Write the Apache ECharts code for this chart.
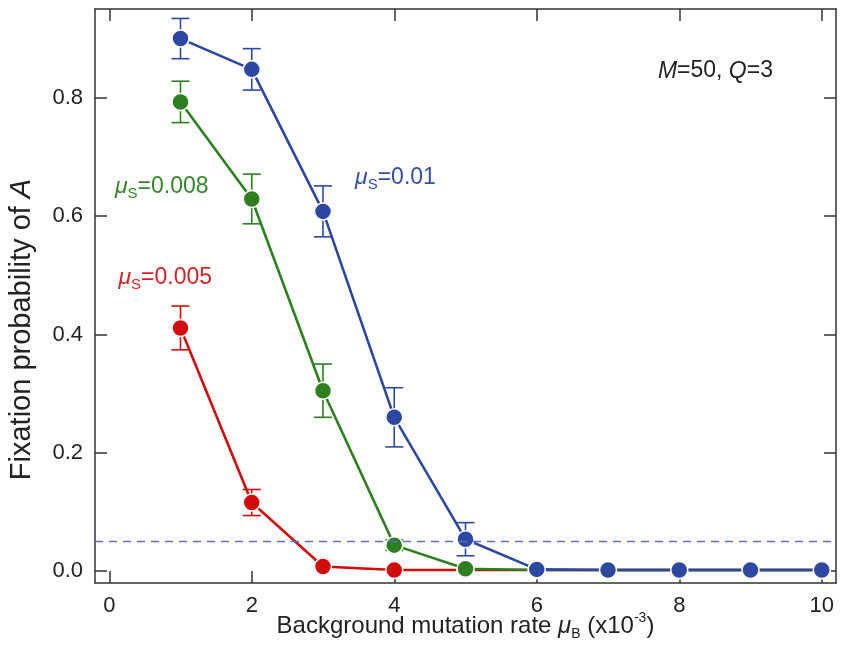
<!DOCTYPE html>
<html><head><meta charset="utf-8">
<script src="https://cdn.jsdelivr.net/npm/echarts@6/dist/echarts.min.js"></script>
<style>html,body{margin:0;padding:0;background:#fff}#c{width:841px;height:647px}</style>
</head><body><div id="c"></div>
<script>
// ---- data ----
const xValues = [1, 2, 3, 4, 5, 6, 7, 8, 9, 10];
const blueY   = [0.900, 0.848, 0.608, 0.260, 0.054, 0.003, 0.002, 0.002, 0.002, 0.002];
const blueErr = [0.034, 0.035, 0.043, 0.050, 0.028, 0, 0, 0, 0, 0];
const greenY   = [0.793, 0.629, 0.305, 0.044, 0.004, 0.002, 0.002, 0.002, 0.002, 0.002];
const greenErr = [0.035, 0.042, 0.045, 0.009, 0, 0, 0, 0, 0, 0];
const redY   = [0.411, 0.116, 0.008, 0.002, 0.002, 0.002, 0.002, 0.002, 0.002, 0.002];
const redErr = [0.037, 0.022, 0, 0, 0, 0, 0, 0, 0, 0];
const xTicks = [0, 2, 4, 6, 8, 10];
const yTicks = [0, 0.2, 0.4, 0.6, 0.8];
const threshold = 0.05;
const labels = [
  {text: '{i|μ}{sub|S}{n|=0.01}', pos: [3.45, 0.665], color: '#3450a6'},
  {text: '{i|μ}{sub|S}{n|=0.008}', pos: [0.08, 0.650], color: '#34862a'},
  {text: '{i|μ}{sub|S}{n|=0.005}', pos: [0.13, 0.496], color: '#d42424'},
  {text: '{i|M}{n|=50, }{i|Q}{n|=3}', pos: [7.70, 0.845], color: '#222'}
];

const BLUE = '#2c48a2', GREEN = '#2d7f1f', RED = '#d20c0c';
const FONT = 'Liberation Sans, Arial, sans-serif';

function pairs(ys) { return xValues.map((x, i) => [x, ys[i]]); }
function errData(ys, es) {
  const out = [];
  xValues.forEach((x, i) => { if (es[i] > 0) out.push([x, ys[i] - es[i], ys[i] + es[i]]); });
  return out;
}
function errSeries(ys, es, color) {
  return {
    type: 'custom', z: 1, silent: true,
    data: errData(ys, es),
    renderItem(params, api) {
      const x = api.value(0), lo = api.value(1), hi = api.value(2);
      const a = api.coord([x, hi]), b = api.coord([x, lo]);
      const w = 9;
      const st = {stroke: color, lineWidth: 1.6};
      return {type: 'group', children: [
        {type: 'line', shape: {x1: a[0], y1: a[1], x2: b[0], y2: b[1]}, style: st},
        {type: 'line', shape: {x1: a[0] - w, y1: a[1], x2: a[0] + w, y2: a[1]}, style: st},
        {type: 'line', shape: {x1: b[0] - w, y1: b[1], x2: b[0] + w, y2: b[1]}, style: st}
      ]};
    }
  };
}
function lineSeries(ys, color, z, extra) {
  return Object.assign({
    type: 'line', z: z, data: pairs(ys),
    symbol: 'circle', symbolSize: 17,
    lineStyle: {color: color, width: 2.6},
    itemStyle: {color: color, borderColor: '#fff', borderWidth: 1.5}
  }, extra || {});
}

const axisLineStyle = {color: '#333', width: 1.5};
function richFor(size, color) {
  return {
    n: {fontSize: size, fontFamily: FONT, color: color, lineHeight: size + 6},
    i: {fontSize: size, fontFamily: FONT, color: color, fontStyle: 'italic', lineHeight: size + 6},
    sub: {fontSize: Math.round(size * 0.6), fontFamily: FONT, color: color, verticalAlign: 'bottom', lineHeight: Math.round(size * 0.6) + 2},
    sup: {fontSize: Math.round(size * 0.6), fontFamily: FONT, color: color, verticalAlign: 'top', lineHeight: Math.round(size * 0.6) + 2}
  };
}

const chart = echarts.init(document.getElementById('c'), null, {renderer: 'canvas'});
chart.setOption({
  animation: false,
  backgroundColor: '#fff',
  grid: {left: 95, right: 5, top: 9, bottom: 64, containLabel: false, outerBoundsMode: 'none'},
  xAxis: [{
    type: 'value', min: -0.2, max: 10.2, position: 'bottom',
    axisLine: {show: true, onZero: false, lineStyle: axisLineStyle},
    axisTick: {show: true, inside: true, length: 12, customValues: xTicks, lineStyle: axisLineStyle},
    axisLabel: {customValues: xTicks, fontSize: 22, fontFamily: FONT, color: '#222', margin: 12},
    splitLine: {show: false},
    name: '{n|Background mutation rate }{i|μ}{sub|B}{n| (x10}{sup|-3}{n|)}',
    nameLocation: 'middle', nameGap: 28, nameMoveOverlap: false,
    nameTextStyle: {rich: richFor(24, '#222'), verticalAlign: 'top'}
  }, {
    type: 'value', min: -0.2, max: 10.2, position: 'top',
    axisLine: {show: true, onZero: false, lineStyle: axisLineStyle},
    axisTick: {show: true, inside: true, length: 12, customValues: xTicks, lineStyle: axisLineStyle},
    axisLabel: {show: false}, splitLine: {show: false}
  }],
  yAxis: [{
    type: 'value', min: -0.02, max: 0.95, position: 'left',
    axisLine: {show: true, onZero: false, lineStyle: axisLineStyle},
    axisTick: {show: true, inside: true, length: 12, customValues: yTicks, lineStyle: axisLineStyle},
    axisLabel: {customValues: yTicks, fontSize: 22, fontFamily: FONT, color: '#222', margin: 12,
      formatter: v => v.toFixed(1)},
    splitLine: {show: false},
    name: '{n|Fixation probability of }{i|A}',
    nameLocation: 'middle', nameGap: 56, nameRotate: 90, nameMoveOverlap: false,
    nameTextStyle: {rich: richFor(29, '#222'), padding: [0, 67, 0, 0]}
  }, {
    type: 'value', min: -0.02, max: 0.95, position: 'right',
    axisLine: {show: true, onZero: false, lineStyle: axisLineStyle},
    axisTick: {show: true, inside: true, length: 12, customValues: yTicks, lineStyle: axisLineStyle},
    axisLabel: {show: false}, splitLine: {show: false}
  }],
  series: [
    errSeries(redY, redErr, RED),
    errSeries(greenY, greenErr, GREEN),
    errSeries(blueY, blueErr, BLUE),
    lineSeries(redY, RED, 2),
    lineSeries(greenY, GREEN, 3),
    lineSeries(blueY, BLUE, 4, {
      markLine: {
        silent: true, symbol: 'none', label: {show: false},
        lineStyle: {color: '#5b6fc0', width: 1.3, type: [8, 6]},
        data: [{yAxis: threshold}]
      }
    })
  ]
});

chart.setOption({
  graphic: labels.map(l => {
    const p = chart.convertToPixel({xAxisIndex: 0, yAxisIndex: 0}, l.pos);
    const r = richFor(23, l.color);
    Object.keys(r).forEach(k => { r[k].fill = r[k].color; delete r[k].color; });
    r.sub.fontSize = 15; r.sub.lineHeight = 17;
    return {
      type: 'text', x: p[0], y: p[1], z: 10,
      style: {text: l.text, verticalAlign: 'middle', align: 'left', rich: r}
    };
  })
});
</script>
</body></html>
